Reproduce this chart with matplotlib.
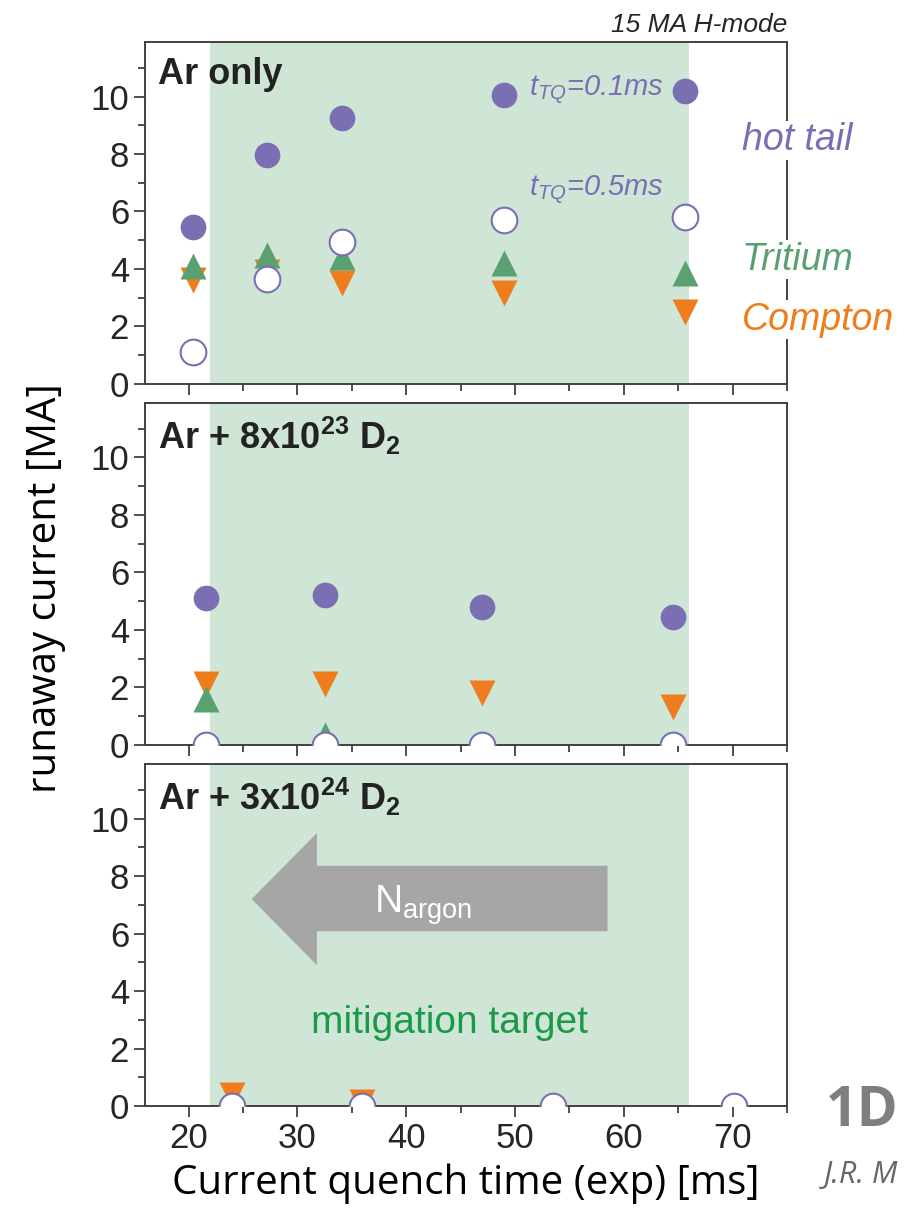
import matplotlib
matplotlib.use("Agg")
import matplotlib.pyplot as plt
from matplotlib.patches import Polygon
from matplotlib.ticker import MultipleLocator

# =========================
# DATA
# =========================
# panel 1: Ar only
x_ar = [20.4, 27.2, 34.1, 49.0, 65.6]
hot01_ar = [5.45, 7.95, 9.25, 10.05, 10.2]
hot05_ar = [1.1, 3.65, 4.95, 5.7, 5.8]
trit_ar = [4.1, 4.5, 4.4, 4.2, 3.85]
comp_ar = [3.6, 3.9, 3.5, 3.15, 2.5]

# panel 2: Ar + 8e23 D2
x_d1 = [21.6, 32.5, 47.0, 64.5]
hot01_d1 = [5.1, 5.2, 4.8, 4.45]
hot05_d1 = [0.0, 0.0, 0.0, 0.0]
trit_d1 = [1.6, 0.35]
comp_d1 = [2.1, 2.1, 1.8, 1.3]

# panel 3: Ar + 3e24 D2
x_d2 = [24.0, 35.9, 53.5, 70.1]
hot01_d2 = [0.0, 0.0, 0.0, 0.0]
hot05_d2 = [0.0, 0.0, 0.0, 0.0]
comp_d2 = [0.4, 0.15]

target = (22, 66)

PURPLE = "#7a6fb3"
GREEN = "#5aa172"
ORANGE = "#ee7d1e"
SHADE = "#cfe6d7"
FRAME = "#404040"

plt.rcParams['font.family'] = ['Liberation Sans', 'DejaVu Sans']
plt.rcParams['mathtext.fontset'] = 'custom'
plt.rcParams['mathtext.rm'] = 'Liberation Sans'
plt.rcParams['mathtext.it'] = 'Liberation Sans:italic'
plt.rcParams['mathtext.bf'] = 'Liberation Sans:bold'

fig = plt.figure(figsize=(9.12, 12.15), dpi=100)
left, width, height = 0.159, 0.704, 0.2815
bottoms = [0.684, 0.387, 0.0897]
axes = [fig.add_axes([left, b, width, height]) for b in bottoms]

MS = 18.5

def style(ax):
    ax.set_xlim(16, 75)
    ax.set_ylim(0, 11.9)
    ax.axvspan(target[0], target[1], color=SHADE, lw=0, zorder=0)
    ax.xaxis.set_major_locator(MultipleLocator(10))
    ax.xaxis.set_minor_locator(MultipleLocator(5))
    ax.yaxis.set_major_locator(MultipleLocator(2))
    ax.yaxis.set_minor_locator(MultipleLocator(1))
    ax.tick_params(which="major", direction="out", length=8, width=1.3, color=FRAME,
                   labelsize=25, labelcolor="#262626", top=False, right=False)
    ax.tick_params(which="minor", direction="out", length=5, width=1.3, color=FRAME,
                   top=False, right=False)
    for s in ax.spines.values():
        s.set_color(FRAME)
        s.set_linewidth(1.4)

for ax in axes:
    style(ax)

# top panel
ax = axes[0]
ax.plot(x_ar, comp_ar, "v", ms=MS, color=ORANGE, mec="none", zorder=3)
ax.plot(x_ar, trit_ar, "^", ms=MS, color=GREEN, mec="none", zorder=3)
ax.plot(x_ar, hot01_ar, "o", ms=MS, color=PURPLE, mec="none", zorder=4)
ax.plot(x_ar, hot05_ar, "o", ms=MS, mfc="white", mec=PURPLE, mew=1.5, zorder=5)
ax.tick_params(labelbottom=False)
ax.text(17.2, 10.75, "Ar only", fontsize=26, fontweight="bold", color="#222222",
        va="center")
ax.text(51.3, 10.2, r"$\mathit{t_{TQ}}$=0.1ms", fontsize=21, style="italic",
        color=PURPLE, va="center", ha="left")
ax.text(51.3, 6.75, r"$\mathit{t_{TQ}}$=0.5ms", fontsize=21, style="italic",
        color=PURPLE, va="center", ha="left")
ax.text(1.0, 1.015, "15 MA H-mode", transform=ax.transAxes, fontsize=19,
        style="italic", color="#262626", ha="right", va="bottom")
wbox = dict(facecolor="white", edgecolor="none", pad=1)
ax.text(0.93, 0.713, "hot tail", transform=ax.transAxes, fontsize=27,
        style="italic", color=PURPLE, ha="left", va="center", bbox=wbox, clip_on=False)
ax.text(0.93, 0.363, "Tritium", transform=ax.transAxes, fontsize=27,
        style="italic", color=GREEN, ha="left", va="center", bbox=wbox, clip_on=False)
ax.text(0.93, 0.187, "Compton", transform=ax.transAxes, fontsize=27,
        style="italic", color=ORANGE, ha="left", va="center", bbox=wbox, clip_on=False)

# middle panel
ax = axes[1]
ax.plot(x_d1, comp_d1, "v", ms=MS, color=ORANGE, mec="none", zorder=3)
ax.plot(x_d1[:len(trit_d1)], trit_d1, "^", ms=MS, color=GREEN, mec="none", zorder=3)
ax.plot(x_d1, hot01_d1, "o", ms=MS, color=PURPLE, mec="none", zorder=4)
ax.plot(x_d1, hot05_d1, "o", ms=MS, mfc="white", mec=PURPLE, mew=1.5, zorder=5)
ax.tick_params(labelbottom=False)
ax.text(17.2, 10.75, r"Ar + 8x10$^{\mathbf{23}}$ D$_{\mathbf{2}}$", fontsize=26,
        fontweight="bold", color="#222222", va="center")

# bottom panel
ax = axes[2]
ax.plot(x_d2[:len(comp_d2)], comp_d2, "v", ms=MS, color=ORANGE, mec="none", zorder=3)
ax.plot(x_d2, hot01_d2, "o", ms=MS, color=PURPLE, mec="none", zorder=4)
ax.plot(x_d2, hot05_d2, "o", ms=MS, mfc="white", mec=PURPLE, mew=1.5, zorder=5)
ax.text(17.2, 10.75, r"Ar + 3x10$^{\mathbf{24}}$ D$_{\mathbf{2}}$", fontsize=26,
        fontweight="bold", color="#222222", va="center")
arrow = Polygon([(25.8, 7.2), (31.8, 9.5), (31.8, 8.36), (58.5, 8.36),
                 (58.5, 6.08), (31.8, 6.08), (31.8, 4.9)],
                closed=True, color="#a6a6a6", lw=0, zorder=2)
ax.add_patch(arrow)
ax.text(41.6, 7.0, r"N$_{\mathregular{argon}}$", fontsize=28, color="white",
        ha="center", va="center", zorder=3)
ax.text(44, 2.9, "mitigation target", fontsize=28, color="#1a9a48",
        ha="center", va="center")
ax.set_xlabel("Current quench time (exp) [ms]", fontsize=29,
              family=["Open Sans", "DejaVu Sans"], labelpad=6)

fig.text(0.05, 0.516, "runaway current [MA]", rotation=90, fontsize=29,
         family=["Open Sans", "DejaVu Sans"], ha="center", va="center")

fig.text(0.905, 0.085, "1D", fontsize=40, fontweight="bold", color="#7f7f7f",
         family=["Open Sans", "DejaVu Sans"], ha="left", va="center")
fig.text(0.903, 0.033, "J.R. M", fontsize=22, style="italic", color="#666666",
         family=["Open Sans", "DejaVu Sans"], ha="left", va="center")

fig.savefig("out.png", dpi=100)
